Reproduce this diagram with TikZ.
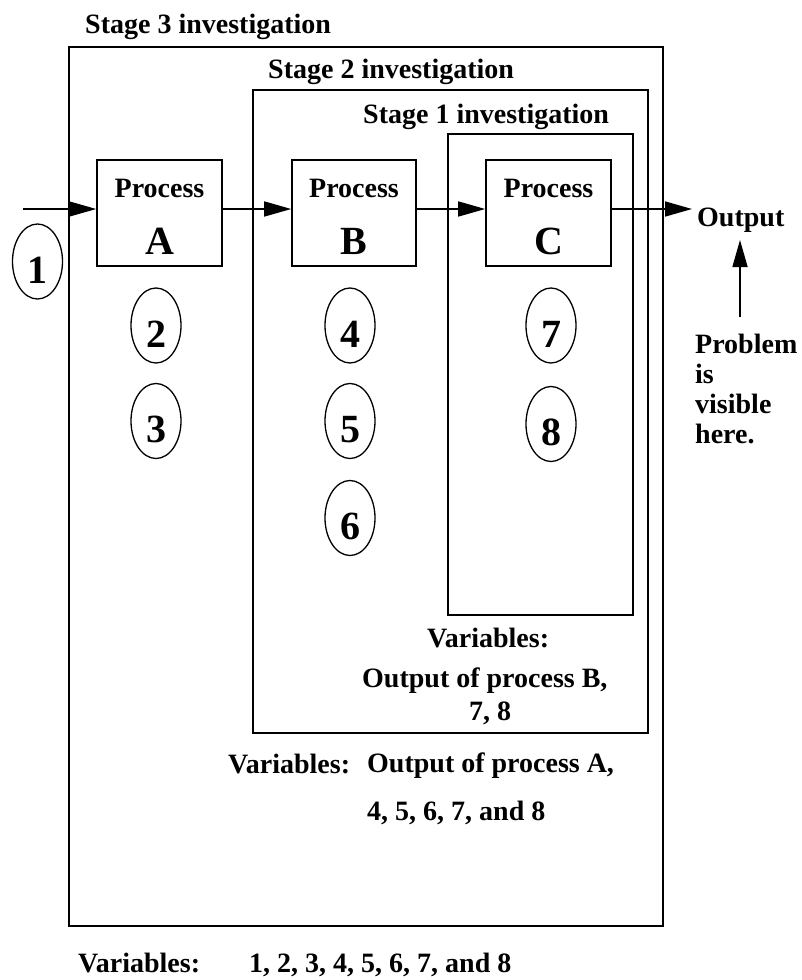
\documentclass[tikz,border=0pt]{standalone}
\usepackage{fontspec}
\setmainfont{Liberation Serif}
\usetikzlibrary{arrows.meta,shapes.geometric}
\begin{document}
\begin{tikzpicture}[x=1pt,y=-1pt,
  frame/.style={draw, line width=1.6pt, inner sep=0pt},
  lbl/.style={font=\bfseries\fontsize{28}{30}\selectfont, inner sep=0pt, anchor=base west},
  proclbl/.style={font=\bfseries\fontsize{28}{30}\selectfont, inner sep=0pt, anchor=base},
  letter/.style={font=\bfseries\fontsize{40}{40}\selectfont, inner sep=0pt, anchor=base},
  var/.style={draw, ellipse, line width=1.3pt, minimum width=50pt, minimum height=75pt,
    inner sep=0pt, text height=43pt, text depth=0pt,
    font=\bfseries\fontsize{40}{40}\selectfont},
  flow/.style={line width=1.6pt, -{Triangle[length=27pt,width=15pt]}}]
\useasboundingbox (0,0) rectangle (801,980);

% nested investigation frames
\node[frame, minimum width=594pt, minimum height=879pt] (s3) at (366,486.5) {};
\node[frame, minimum width=395pt, minimum height=643pt] (s2) at (450.5,411.5) {};
\node[frame, minimum width=185pt, minimum height=481pt] (s1) at (540.5,374.5) {};
\node[lbl] (t3) at (85,33) {Stage 3 investigation};
\node[lbl] (t2) at (268,78) {Stage 2 investigation};
\node[lbl] (t1) at (363,123) {Stage 1 investigation};

% processes
\node[frame, minimum width=125pt, minimum height=106pt] (A) at (159.5,213) {};
\node[frame, minimum width=124pt, minimum height=106pt] (B) at (354,213) {};
\node[frame, minimum width=125pt, minimum height=106pt] (C) at (548.5,213) {};
\node[proclbl] (pa) at (159.5,197) {Process};
\node[proclbl] (pb) at (354,197) {Process};
\node[proclbl] (pc) at (548.5,197) {Process};
\node[letter] (la) at (159.5,254) {A};
\node[letter] (lb) at (354,254) {B};
\node[letter] (lc) at (548.5,254) {C};

% flow of the product
\coordinate (in) at (23,209);
\coordinate (outtip) at (692,209);
\draw[flow] (in) -- ([yshift=4pt]A.west);
\draw[flow] ([yshift=4pt]A.east) -- ([yshift=4pt]B.west);
\draw[flow] ([yshift=4pt]B.east) -- ([yshift=4pt]C.west);
\draw[flow] ([yshift=4pt]C.east) -- (outtip);
\node[lbl] (out) at (697,226) {Output};

\coordinate (probtop) at (740,317);
\coordinate (probtip) at (740,240);
\draw[flow] (probtop) -- (probtip);
\node[lbl] (pr1) at (695,353) {Problem};
\node[lbl] (pr2) at (695,383) {is};
\node[lbl] (pr3) at (695,413) {visible};
\node[lbl] (pr4) at (695,443) {here.};

% variables
\node[var] (v1) at (37.5,261.5) {1};
\node[var] (v2) at (156,325.5) {2};
\node[var] (v3) at (156,421) {3};
\node[var] (v4) at (350,325.5) {4};
\node[var] (v5) at (350,421) {5};
\node[var] (v6) at (350,518) {6};
\node[var] (v7) at (551,325.5) {7};
\node[var] (v8) at (551,424) {8};

% variable lists per stage
\node[lbl] (var1) at (427,647) {Variables:};
\node[lbl] (var1a) at (362,687) {Output of process B,};
\node[lbl] (var1b) at (469,720) {7, 8};
\node[lbl] (var2) at (228,773) {Variables:};
\node[lbl] (var2a) at (367,772) {Output of process A,};
\node[lbl] (var2b) at (367,820) {4, 5, 6, 7, and 8};
\node[lbl] (var3) at (78,972) {Variables:};
\node[lbl] (var3a) at (249,972) {1, 2, 3, 4, 5, 6, 7, and 8};
\end{tikzpicture}
\end{document}
